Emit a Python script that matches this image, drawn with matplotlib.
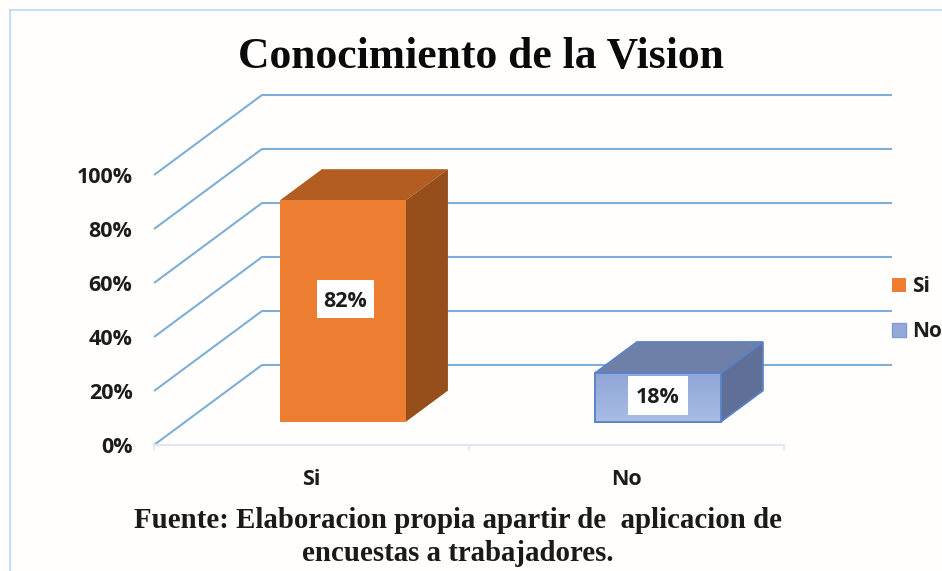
import numpy as np
import matplotlib
matplotlib.use('Agg')
import matplotlib.pyplot as plt
from matplotlib.patches import Patch, Polygon, Rectangle

categories = ['Si', 'No']
values = [82, 18]
labels = ['82%', '18%']
y_ticks = [0, 20, 40, 60, 80, 100]
y_tick_labels = ['0%', '20%', '40%', '60%', '80%', '100%']

title = 'Conocimiento de la Vision'
source = 'Fuente: Elaboracion propia apartir de  aplicacion de\nencuestas a trabajadores.'

W, H = 942, 571
# oblique projection: how far the back wall is shifted, in data units
DEPTH_X = 108 / 315
DEPTH_Y = 80 / 2.7
BAR_WIDTH = 0.4
BAR_D0, BAR_D1 = 0.29, 0.68
# data label boxes, nudged from the middle of the front face
LABEL_DX = [0.008, 0.0]
LABEL_DY = [4.3, 0.6]
LABEL_W = [57 / 315, 60 / 315]
LABEL_H = [38 / 2.7, 39 / 2.7]

SANS = 'Open Sans'
SERIF = 'Liberation Serif'
GRID = '#7fafd6'
AXIS = '#e3e6ea'
TXT = '#1c1c1c'
FS = 15.5


def proj(x, y, d):
    return x + d * DEPTH_X, y + d * DEPTH_Y


def quad(ax, pts, **kw):
    ax.add_patch(Polygon([proj(*p) for p in pts], closed=True, clip_on=False, **kw))


def draw_bar(ax, cx, val, front, top, side, edge=None, gradient=None, zorder=3):
    x0, x1 = cx - BAR_WIDTH / 2, cx + BAR_WIDTH / 2
    lw = 1.3 if edge else 0
    ec = edge if edge else 'none'
    quad(ax, [(x0, val, BAR_D0), (x1, val, BAR_D0), (x1, val, BAR_D1), (x0, val, BAR_D1)],
         facecolor=top, edgecolor=ec, lw=lw, zorder=zorder)
    quad(ax, [(x1, 0, BAR_D0), (x1, val, BAR_D0), (x1, val, BAR_D1), (x1, 0, BAR_D1)],
         facecolor=side, edgecolor=ec, lw=lw, zorder=zorder)
    quad(ax, [(x0, 0, BAR_D0), (x1, 0, BAR_D0), (x1, val, BAR_D0), (x0, val, BAR_D0)],
         facecolor=front, edgecolor=ec, lw=lw, zorder=zorder)
    if gradient is not None:
        (fx0, fy0), (fx1, fy1) = proj(x0, 0, BAR_D0), proj(x1, val, BAR_D0)
        grad = np.linspace(0, 1, 64).reshape(-1, 1)
        cmap = matplotlib.colors.LinearSegmentedColormap.from_list('g', gradient)
        ax.imshow(grad, extent=(fx0, fx1, fy0, fy1), origin='lower', aspect='auto',
                  cmap=cmap, zorder=zorder + 0.1, clip_on=False)
        ax.add_patch(Rectangle((fx0, fy0), fx1 - fx0, fy1 - fy0, fill=False, edgecolor=edge,
                               lw=lw, zorder=zorder + 0.2, clip_on=False))


fig = plt.figure(figsize=(W / 100, H / 100), dpi=100, facecolor='#fffefd')
ax = fig.add_axes([154 / W, (H - 445) / H, 630 / W, 270 / H])

# outer frame of the pasted chart
fig.add_artist(plt.Line2D([10 / W, 10 / W], [0, 1 - 10 / H], color='#bcd7ee', lw=1.2))
fig.add_artist(plt.Line2D([10 / W, 1], [1 - 10 / H, 1 - 10 / H], color='#bcd7ee', lw=1.2))

# gridlines: side wall then back wall
for t in y_ticks:
    xs, ys = zip(proj(-0.5, t, 0), proj(-0.5, t, 1), proj(1.5, t, 1))
    ax.plot(xs, ys, color=GRID, lw=1.5, clip_on=False, zorder=1, solid_capstyle='butt')

# floor front edge and category ticks
ax.plot([-0.5, 1.5], [0, 0], color=AXIS, lw=1.5, clip_on=False, zorder=1)
for x in [-0.5, 0.5, 1.5]:
    ax.plot([x, x], [0, -1.8], color=AXIS, lw=1.2, clip_on=False, zorder=1)

draw_bar(ax, 0, values[0], '#ed7d31', '#b35d22', '#964f1b')
draw_bar(ax, 1, values[1], '#93a9d9', '#6f80a8', '#5f6f97', edge='#5b83c8',
         gradient=['#a9bce3', '#8fa6d8'])

for i, (v, lab) in enumerate(zip(values, labels)):
    bx, by = proj(i + LABEL_DX[i], v / 2 + LABEL_DY[i], BAR_D0)
    ax.add_patch(Rectangle((bx - LABEL_W[i] / 2, by - LABEL_H[i] / 2), LABEL_W[i], LABEL_H[i],
                           facecolor='white', edgecolor='none', zorder=5, clip_on=False))
    ax.text(bx, by - 0.6, lab, ha='center', va='center', fontsize=FS,
            fontweight='bold', family=SANS, color=TXT, zorder=6)

ax.set_xlim(-0.5, 1.5)
ax.set_ylim(0, 100)
ax.set_xticks([0, 1])
ax.set_xticklabels(categories, fontsize=FS, fontweight='bold', family=SANS, color=TXT)
ax.set_yticks(y_ticks)
ax.set_yticklabels(y_tick_labels, fontsize=FS, fontweight='bold', family=SANS, color=TXT)
ax.tick_params(axis='both', length=0)
ax.tick_params(axis='x', pad=17.5)
ax.tick_params(axis='y', pad=15.5)
ax.patch.set_alpha(0)
for s in ax.spines.values():
    s.set_visible(False)

leg = fig.legend(handles=[Patch(facecolor='#ed7d31', label=categories[0]),
                          Patch(facecolor='#93a9d9', edgecolor='#7f9bd0', label=categories[1])],
                 loc='center left', bbox_to_anchor=(892 / W, 1 - 309 / H), frameon=False,
                 handlelength=0.68, handleheight=0.68, handletextpad=0.3, labelspacing=1.15,
                 prop={'family': SANS, 'weight': 'bold', 'size': 15}, labelcolor=TXT,
                 borderaxespad=0, borderpad=0)

fig.text(481 / W, 1 - 57 / H, title, ha='center', va='center', family=SERIF,
         fontweight='bold', fontsize=31.4, color='#0a0a0a')
fig.text(458 / W, 1 - 537 / H, source, ha='center', va='center', family=SERIF,
         fontweight='bold', fontsize=20.8, color='#1a1a1a', linespacing=1.25)

fig.savefig('out.png', dpi=100, facecolor=fig.get_facecolor())
